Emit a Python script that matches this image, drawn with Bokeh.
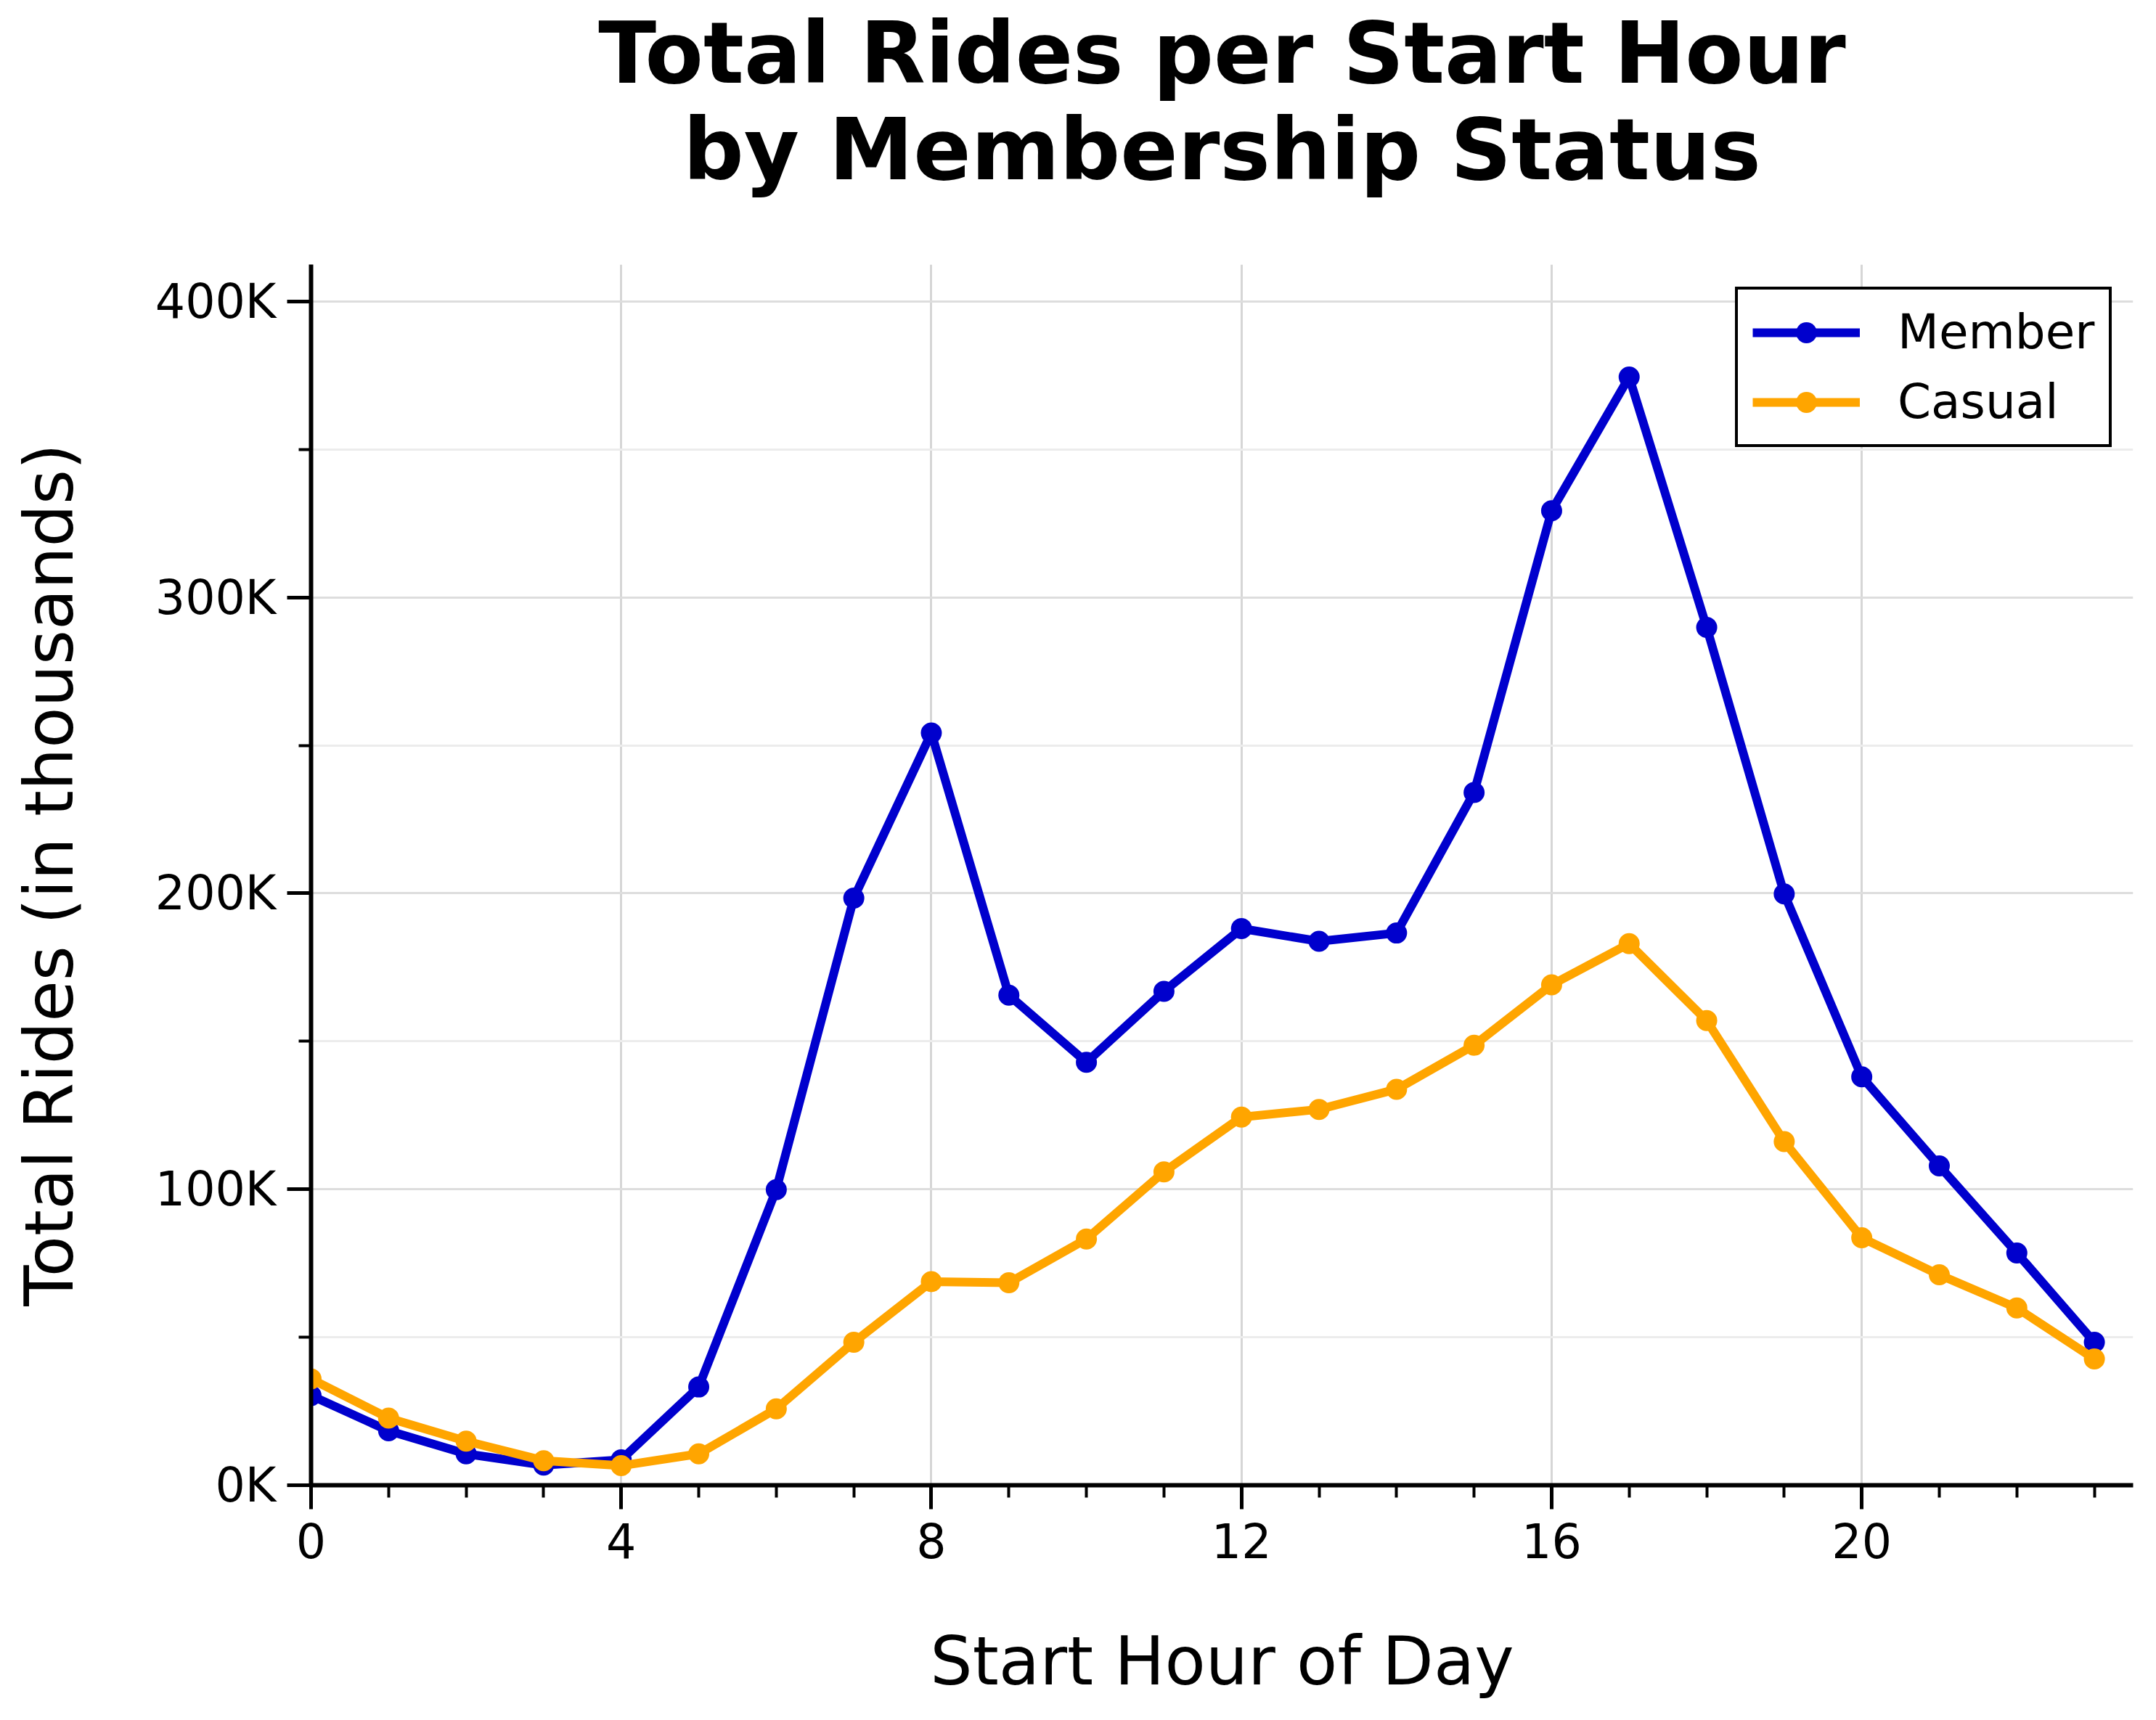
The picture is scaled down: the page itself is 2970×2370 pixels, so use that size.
from bokeh.plotting import figure
from bokeh.models import FixedTicker, Legend, LegendItem, Range1d, Title
from bokeh.embed import file_html
from bokeh.resources import INLINE

hours = list(range(24))
member = [30300, 18400, 10600, 6800, 8600, 33200, 99900, 198400, 254200, 165600,
          142900, 166900, 188100, 183800, 186600, 234100, 329300, 374500, 289900,
          199800, 138000, 107900, 78500, 48300]
casual = [35900, 22700, 14900, 8300, 6600, 10600, 25800, 48300, 68800, 68400,
          83200, 105900, 124400, 127000, 133800, 148700, 169100, 183000, 157000,
          116100, 83600, 71100, 59900, 42700]
series_names = ["Member", "Casual"]
series_colors = ["#0000cd", "#ffa500"]

x_major = [0, 4, 8, 12, 16, 20]
y_major = [0, 100000, 200000, 300000, 400000]
y_minor = [50000, 150000, 250000, 350000]
y_labels = ["0K", "100K", "200K", "300K", "400K"]

title_lines = ["Total Rides per Start Hour", "by Membership Status"]
x_label = "Start Hour of Day"
y_label = "Total Rides (in thousands)"

FONT = "DejaVu Sans"

p = figure(width=2958, height=2358, output_backend="svg", toolbar_location=None,
           x_range=Range1d(0, 23.5), y_range=Range1d(0, 412500),
           min_border_left=428, min_border_right=20, min_border_top=364,
           min_border_bottom=312)
p.outline_line_color = None
p.background_fill_color = "white"
p.border_fill_color = "white"

# title: outer line is p.title; panels in p.above stack outward from the frame
p.title.text = title_lines[0]
p.title.align = "center"
p.title.text_font = FONT
p.title.text_font_size = "117px"
p.title.text_font_style = "bold"
p.title.text_color = "black"
p.title.standoff = -12
spacer = Title(text=" ", text_font_size="1px", standoff=87)
p.add_layout(spacer, "above")
t2 = Title(text=title_lines[1], align="center", text_font=FONT, text_font_size="117px",
           text_font_style="bold", text_color="black", standoff=0)
p.add_layout(t2, "above")

for ax in (p.xaxis, p.yaxis):
    ax.axis_line_width = 6
    ax.axis_line_color = "black"
    ax.major_tick_line_width = 5
    ax.major_tick_line_color = "black"
    ax.major_tick_out = 33
    ax.major_tick_in = 0
    ax.minor_tick_line_width = 4
    ax.minor_tick_line_color = "black"
    ax.minor_tick_out = 17
    ax.minor_tick_in = 0
    ax.major_label_text_font = FONT
    ax.major_label_text_font_size = "65px"
    ax.major_label_text_color = "black"
    ax.axis_label_text_font = FONT
    ax.axis_label_text_font_size = "92px"
    ax.axis_label_text_font_style = "normal"
    ax.axis_label_text_color = "black"

p.xaxis.ticker = FixedTicker(ticks=x_major, minor_ticks=hours)
p.yaxis.ticker = FixedTicker(ticks=y_major, minor_ticks=y_minor)
p.yaxis.major_label_overrides = {v: s for v, s in zip(y_major, y_labels)}
p.xaxis.axis_label = x_label
p.yaxis.axis_label = y_label
p.xaxis.major_label_standoff = 18
p.xaxis.axis_label_standoff = 86
p.yaxis.major_label_standoff = 15
p.yaxis.axis_label_standoff = 89

p.xgrid.grid_line_color = "#d6d6d6"
p.xgrid.grid_line_width = 3
p.ygrid.grid_line_color = "#dddddd"
p.ygrid.grid_line_width = 3
p.ygrid.minor_grid_line_color = "#ececec"
p.ygrid.minor_grid_line_width = 3

items = []
for name, vals, col in zip(series_names, [member, casual], series_colors):
    lr = p.line(hours, vals, line_color=col, line_width=12, line_join="round")
    sr = p.scatter(hours, vals, size=29, fill_color=col, line_color=col, line_width=0)
    items.append(LegendItem(label=name, renderers=[lr, sr]))

legend = Legend(items=items, location=(1962, 1430),
                border_line_color="black", border_line_width=4.5, border_line_alpha=1,
                background_fill_color="white", background_fill_alpha=1,
                label_text_font=FONT, label_text_font_size="66px", label_text_color="black",
                glyph_width=148, glyph_height=72, label_standoff=52,
                padding=20, spacing=19, margin=0)
p.add_layout(legend)

open("out.html", "w").write(file_html(p, INLINE))
